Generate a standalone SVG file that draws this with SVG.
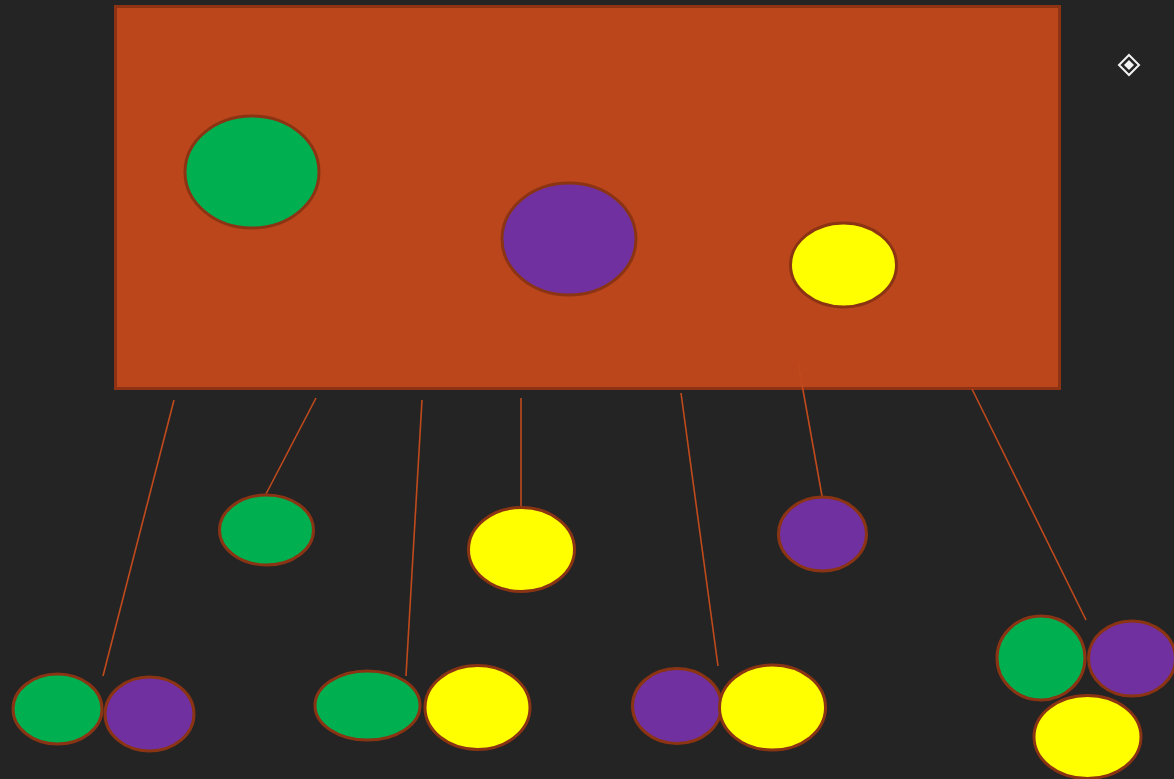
<svg xmlns="http://www.w3.org/2000/svg" width="1174" height="779" viewBox="0 0 1174 779">
<style>
.bg{fill:#242424}
.box{fill:#BC461C;stroke:#8E3214;stroke-width:3}
.node{stroke:#8B3414;stroke-width:3}
.g{fill:#00B050}
.p{fill:#7030A0}
.y{fill:#FFFF00}
.conn line{stroke:#C04A1C;stroke-width:1.6}
.icon{fill:none;stroke:#F2F2F2;stroke-width:2}
</style>
<rect class="bg" x="0" y="0" width="1174" height="779"/>
<g id="container"><rect class="box" x="115.5" y="6.5" width="944" height="382"/></g>
<g id="icon"><path class="icon" d="M1129 55 L1139 65 L1129 75 L1119 65 Z"/><path d="M1129 60 L1134 65 L1129 70 L1124 65 Z" fill="#F2F2F2"/></g>
<g class="conn" id="connectors">
<line x1="174" y1="400" x2="103" y2="676"/>
<line x1="316" y1="398" x2="266" y2="494"/>
<line x1="422" y1="400" x2="406" y2="676"/>
<line x1="521" y1="398" x2="521" y2="506"/>
<line x1="681" y1="393" x2="718" y2="666"/>
<line x1="798" y1="362" x2="822" y2="496"/>
<line x1="972" y1="389" x2="1086" y2="620"/>
</g>
<g id="big-green"><ellipse class="node g" cx="252" cy="172" rx="67" ry="56"/></g>
<g id="big-purple"><ellipse class="node p" cx="569" cy="239" rx="67" ry="56"/></g>
<g id="big-yellow"><ellipse class="node y" cx="843.5" cy="265" rx="53" ry="42"/></g>
<g id="green-1"><ellipse class="node g" cx="266.5" cy="530" rx="47" ry="35"/></g>
<g id="yellow-1"><ellipse class="node y" cx="521.5" cy="549.5" rx="53" ry="42"/></g>
<g id="purple-1"><ellipse class="node p" cx="822.5" cy="534" rx="44" ry="37"/></g>
<g id="pair-gp">
<ellipse class="node g" cx="57.5" cy="709" rx="44.5" ry="35"/>
<ellipse class="node p" cx="149.5" cy="714" rx="44.5" ry="37"/>
</g>
<g id="pair-gy">
<ellipse class="node g" cx="367.5" cy="705.5" rx="52.5" ry="34.5"/>
<ellipse class="node y" cx="477.5" cy="707.5" rx="52.5" ry="42"/>
</g>
<g id="pair-py">
<ellipse class="node p" cx="677" cy="706" rx="44.5" ry="37.5"/>
<ellipse class="node y" cx="772.5" cy="707.5" rx="53" ry="42.5"/>
</g>
<g id="triple">
<ellipse class="node g" cx="1041" cy="658" rx="44" ry="42"/>
<ellipse class="node p" cx="1132" cy="658.5" rx="43.5" ry="37.5"/>
<ellipse class="node y" cx="1087.5" cy="737" rx="53.5" ry="41.5"/>
</g>
</svg>
